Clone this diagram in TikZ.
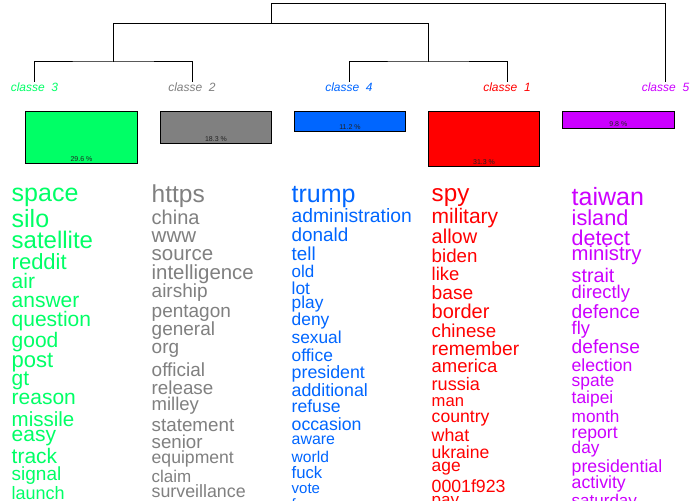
\documentclass[tikz,border=0pt]{standalone}
\usepackage{fontspec}
\setmainfont{Liberation Sans}
\definecolor{cred}{HTML}{FF0000}
\definecolor{cgray}{HTML}{808080}
\definecolor{cgreen}{HTML}{00FF66}
\definecolor{cblue}{HTML}{0066FF}
\definecolor{cpurple}{HTML}{CC00FF}
\definecolor{pcttext}{HTML}{222222}
\begin{document}
\begin{tikzpicture}[x=1pt,y=-1pt,
  word/.style={anchor=base west,inner sep=0pt,outer sep=0pt},
  classlabel/.style={inner sep=0pt,font=\fontsize{12}{12}\selectfont\itshape},
  sizebox/.style={draw=black,line width=1pt},
  pct/.style={anchor=base,inner sep=0pt,text=pcttext,font=\fontsize{7}{7}\selectfont},
  tree/.style={draw=black,line width=1pt}]
\useasboundingbox (0,0) rectangle (700,500);
\fill[white] (0,0) rectangle (700,500);
\clip (0,0) rectangle (700,500);

% class labels
\node[classlabel,text=cgreen]  (k3) at (34.5,87.5) {classe\ \ 3};
\node[classlabel,text=cgray]   (k2) at (192,87.5) {classe\ \ 2};
\node[classlabel,text=cblue]   (k4) at (349,87.5) {classe\ \ 4};
\node[classlabel,text=cred]    (k1) at (507,87.5) {classe\ \ 1};
\node[classlabel,text=cpurple] (k5) at (665.5,87.5) {classe\ \ 5};

% dendrogram
\coordinate (t3) at (34.3,82);
\coordinate (t2) at (192.3,82);
\coordinate (t4) at (349.3,82);
\coordinate (t1) at (507.3,82);
\coordinate (t5) at (665.3,82);
\coordinate (m32) at (113.3,62);
\coordinate (m41) at (428.3,62);
\coordinate (m) at (271.7,23.3);
\coordinate (r) at (271.7,3.5);
\draw[tree] (t3) |- (m32) -| (t2);
\draw[tree] (t4) |- (m41) -| (t1);
\draw[tree] (m32) |- (m) -| (m41);
\draw[tree] (m) -- (r) -| (t5);

% size boxes
\draw[sizebox,fill=cgreen]  (25.3,111.3) rectangle (137.7,163.3) node[pct] (p3) at (81.5,161.5) {29.6 \%};
\draw[sizebox,fill=cgray]   (160.3,111.3) rectangle (271.7,143.3) node[pct] (p2) at (216,141.5) {18.3 \%};
\draw[sizebox,fill=cblue]   (294.3,111.3) rectangle (405.7,131.3) node[pct] (p4) at (350,129.3) {11.2 \%};
\draw[sizebox,fill=cred]    (428.3,111.3) rectangle (539.7,166) node[pct] (p1) at (484,164) {31.3 \%};
\draw[sizebox,fill=cpurple] (562.3,111.3) rectangle (674.3,128.3) node[pct] (p5) at (618.3,126.3) {9.8 \%};

% word columns
\foreach \w/\s/\y [count=\i] in {space/25/201,silo/25/227,satellite/24/248,reddit/22/269,air/21/288,answer/21/307,question/21/326,good/21/347,post/22/367,gt/21/385,reason/21/404,missile/20.5/426,easy/21/441,track/21/463,signal/19/480,launch/18/499}
  \node[word,text=cgreen] (ga\i) at (11.7,\y) {\fontsize{\s}{\s}\selectfont \w};

\foreach \w/\s/\y [count=\i] in {https/24.5/202,china/20/224,www/20.5/242,source/20.5/260,intelligence/20.4/279,airship/19/297,pentagon/19/317,general/19/335,org/19/353,official/19/376,release/18.8/394,milley/18.5/410,statement/18.8/431,senior/18.7/448,equipment/17.6/463,claim/17/482,surveillance/17.8/497}
  \node[word,text=cgray] (gb\i) at (151.7,\y) {\fontsize{\s}{\s}\selectfont \w};

\foreach \w/\s/\y [count=\i] in {trump/25/202,administration/19.3/222,donald/18.9/241,tell/18.8/260,old/17/277,lot/17.4/294,play/17.3/308,deny/17.4/325,sexual/17.3/343,office/17.4/361,president/17.8/378,additional/17.8/396,refuse/17.6/412,occasion/17.7/430,aware/15.9/444,world/15.6/462,fuck/16.7/478,vote/15/493,f/15/509}
  \node[word,text=cblue] (gc\i) at (291.7,\y) {\fontsize{\s}{\s}\selectfont \w};

\foreach \w/\s/\y [count=\i] in {spy/24.2/201,military/21/223,allow/20/243,biden/18.7/262,like/18.4/280,base/19.2/299,border/20/318,chinese/18.7/337,remember/19.2/355,america/18.5/372,russia/18.1/390,man/16.6/406,country/17.6/422,what/17.8/441,ukraine/17.6/458,age/17.4/471,0001f923/17.7/492,pay/17/505}
  \node[word,text=cred] (gd\i) at (431.7,\y) {\fontsize{\s}{\s}\selectfont \w};

\foreach \w/\s/\y [count=\i] in {taiwan/25/205,island/21.7/225,detect/21.4/245,ministry/20.3/260,strait/19.7/282,directly/18.4/298,defence/19.2/318,fly/18.3/334,defense/19.2/353,election/17.6/371,spate/17.4/386,taipei/17.4/403,month/17.2/422,report/17.6/438,day/17.2/453,presidential/17.7/472,activity/17.7/488,saturday/17/506}
  \node[word,text=cpurple] (ge\i) at (571.7,\y) {\fontsize{\s}{\s}\selectfont \w};
\end{tikzpicture}
\end{document}
